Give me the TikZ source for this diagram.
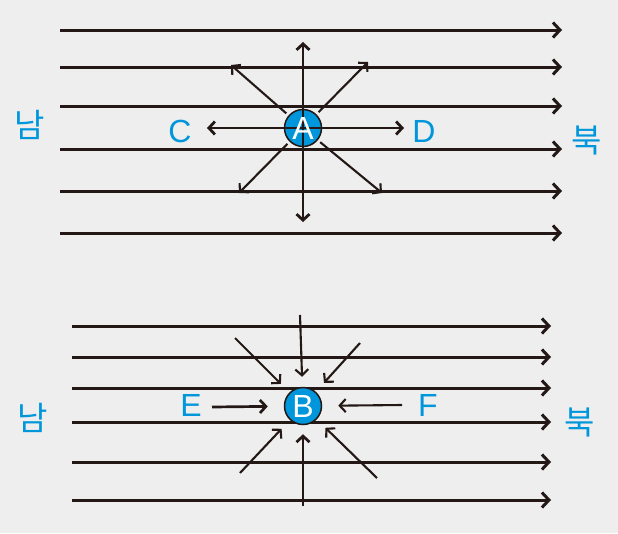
\documentclass[tikz,border=0pt]{standalone}
\usepackage{fontspec}
\setmainfont{Liberation Sans}
\newfontfamily\krfont{Noto Sans CJK KR}
\usetikzlibrary{arrows.meta}
\definecolor{bgcol}{HTML}{EDEEED}
\definecolor{ink}{HTML}{231815}
\definecolor{sky}{HTML}{0096DB}
\tikzset{
  fieldline/.style={ink,line width=3pt,-{Straight Barb[length=7pt,width=15pt]}},
  pushout/.style={ink,line width=2.8pt,{Straight Barb[length=6pt,width=13pt]}-{Straight Barb[length=6pt,width=13pt]}},
  slant/.style={ink,line width=2.1pt,-{Straight Barb[length=6pt,width=13pt]}},
  pullin/.style={ink,line width=2.7pt,-{Straight Barb[length=6pt,width=13pt]}},
  charge/.style={circle,fill=sky,draw=ink,line width=1.5pt,minimum size=37pt,inner sep=0pt},
  lett/.style={text=sky,font=\fontsize{32}{32}\selectfont},
  pole/.style={text=sky,font=\krfont\fontsize{33}{33}\selectfont}
}
\begin{document}
\begin{tikzpicture}[x=1pt,y=-1pt]
\fill[bgcol] (0,0) rectangle (618,533);
\useasboundingbox (0,0) rectangle (618,533);
% upper field
\foreach \yy [count=\i] in {30,67,106,149,191,233}{
  \coordinate (ua\i) at (60,\yy);
  \coordinate (ub\i) at (562,\yy);
  \draw[fieldline] (ua\i) -- (ub\i);
}
\node[charge] (A) at (303,128) {};
\coordinate (An) at (303,42);
\coordinate (As) at (303,222);
\coordinate (Aw) at (207,128);
\coordinate (Ae) at (404,128);
\draw[pushout] (An) -- (As);
\draw[pushout] (Aw) -- (Ae);
\coordinate (Anw) at (231,65);
\coordinate (Ane) at (368,62);
\coordinate (Asw) at (239,193);
\coordinate (Ase) at (382,193);
\foreach \t in {Anw,Ane,Asw,Ase}
  \draw[slant,shorten <=3pt] (A) -- (\t);
\node[text=white,font=\fontsize{32}{32}\selectfont] (Atxt) at (A) {A};
\node[lett] (C) at (180,131) {C};
\node[lett] (D) at (424,131) {D};
\node[pole] (s1) at (30,125) {남};
\node[pole] (n1) at (587,140) {북};
% lower field
\foreach \yy [count=\i] in {326,357,388,422,462,500}{
  \coordinate (la\i) at (72,\yy);
  \coordinate (lb\i) at (551,\yy);
  \draw[fieldline] (la\i) -- (lb\i);
}
\node[charge] (B) at (303,406) {};
\node[text=white,font=\fontsize{32}{32}\selectfont] (Btxt) at (B) {B};
\coordinate (Bn) at (300,315);
\coordinate (Bs) at (303,506);
\coordinate (Bnw) at (235,338);
\coordinate (Bne) at (360,343);
\coordinate (Bsw) at (240,473);
\coordinate (Bse) at (377,478);
\coordinate (Bw) at (212,407);
\coordinate (Be) at (402,405);
\draw[pullin,line width=2.1pt,shorten >=10pt] (Bn) -- (B);
\draw[pullin,shorten >=9pt] (Bs) -- (B);
\draw[slant,shorten >=12pt] (Bnw) -- (B);
\draw[slant,shorten >=12pt] (Bne) -- (B);
\draw[slant,shorten >=12pt] (Bsw) -- (B);
\draw[slant,shorten >=12pt] (Bse) -- (B);
\draw[pullin,shorten >=16pt] (Bw) -- (B);
\draw[slant,shorten >=16pt] (Be) -- (B);
\node[lett] (E) at (191,405) {E};
\node[lett] (F) at (428,405) {F};
\node[pole] (s2) at (33,418) {남};
\node[pole] (n2) at (580,422) {북};
\end{tikzpicture}
\end{document}
